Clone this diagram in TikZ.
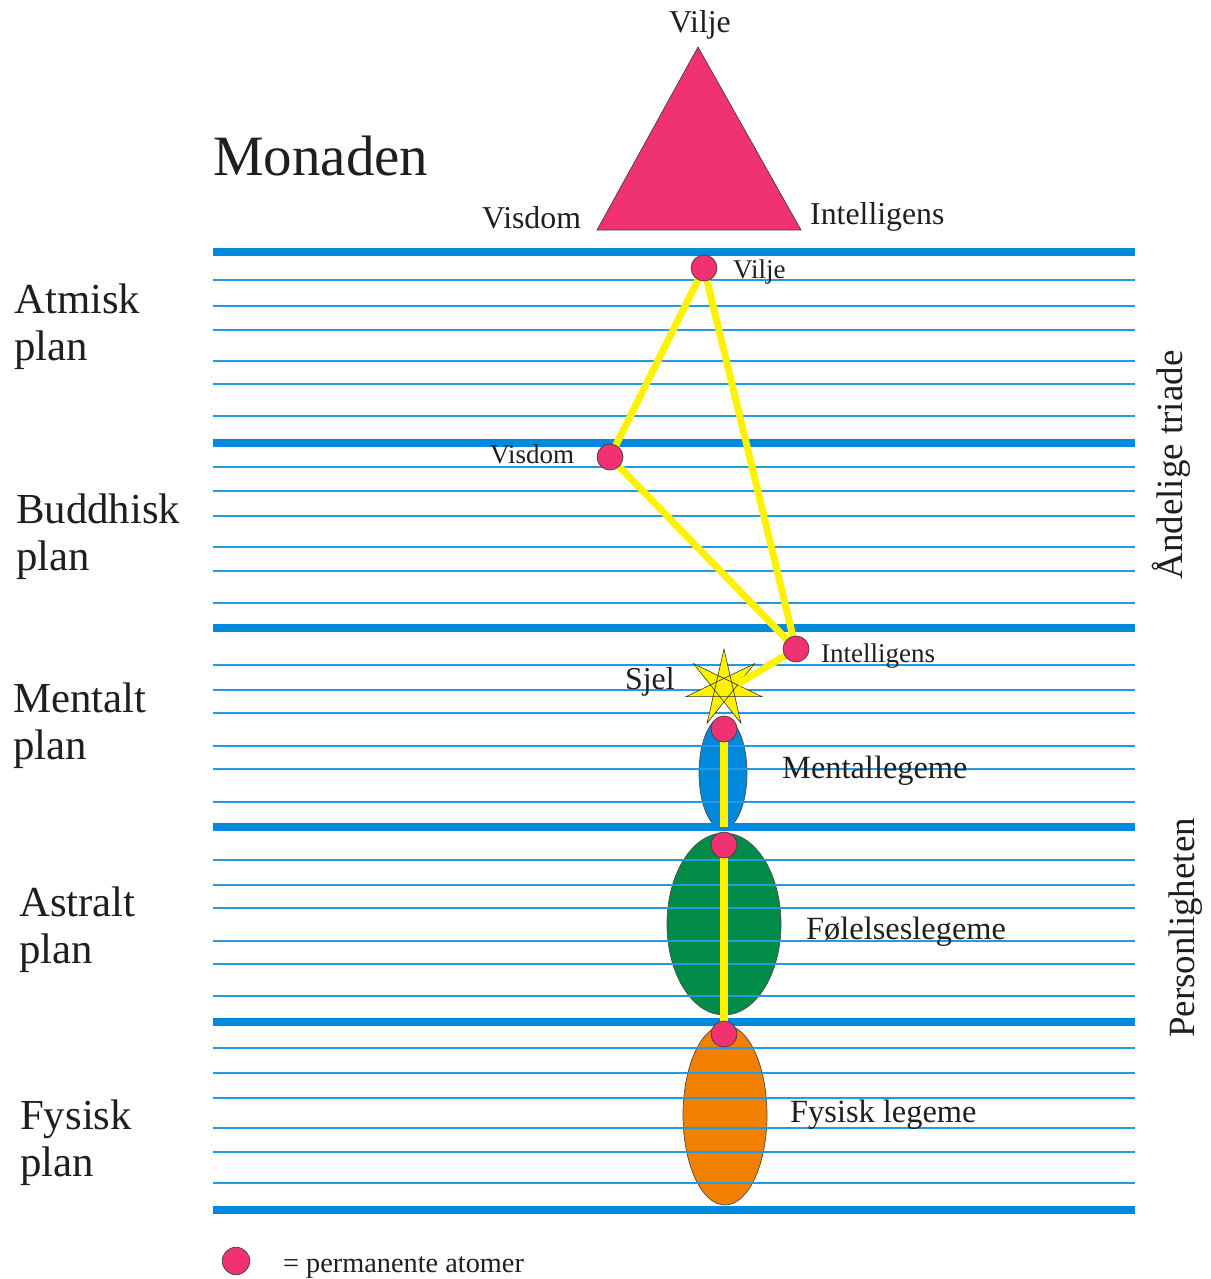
\documentclass[tikz,border=0pt]{standalone}
\usepackage{fontspec}
\setmainfont{Liberation Serif}
\definecolor{thickblue}{RGB}{0,138,222}
\definecolor{thinblue}{RGB}{35,155,228}
\definecolor{atompink}{RGB}{240,50,115}
\definecolor{glow}{RGB}{255,242,0}
\definecolor{mentblue}{RGB}{0,136,221}
\definecolor{astgreen}{RGB}{0,140,70}
\definecolor{fysorange}{RGB}{242,128,0}
\pgfdeclarelayer{back}
\pgfsetlayers{back,main}
\begin{document}
\begin{tikzpicture}[x=1pt,y=-1pt,
  every node/.style={inner sep=0pt, text=black!88},
  lbl/.style={anchor=base west},
  plane/.style={lbl, font=\fontsize{42.8}{47}\selectfont},
  body/.style={lbl, font=\fontsize{32.4}{36}\selectfont},
  small/.style={lbl, font=\fontsize{27}{30}\selectfont},
  mid/.style={font=\fontsize{31.8}{35}\selectfont},
  side/.style={rotate=90, font=\fontsize{37}{40}\selectfont},
  atom/.style={circle, minimum size=26pt, fill=atompink, draw=black!75, line width=0.7pt},
  thickline/.style={thickblue, line width=8pt},
  thinline/.style={thinblue, line width=1.2pt},
  link/.style={glow, line width=7pt},
  bodyshape/.style={draw=black!70, line width=0.7pt}]
\useasboundingbox (0,0) rectangle (1210,1279);

% atoms
\node[atom] (av) at (704,268) {};
\node[atom] (aw) at (610,457) {};
\node[atom] (ai) at (796,649) {};
\node[atom] (am) at (724,729) {};
\node[atom] (aa) at (724,845) {};
\node[atom] (af) at (724,1034) {};
\node[atom, minimum size=27.5pt] (legatom) at (236,1261) {};
\coordinate (sjelc) at (738,684);
\coordinate (mentend) at (724,827);

\begin{pgfonlayer}{back}
% bodies
\draw[bodyshape, fill=mentblue] (723,773) ellipse [x radius=24, y radius=56];
\draw[bodyshape, fill=astgreen] (724,924) ellipse [x radius=57, y radius=91];
\draw[bodyshape, fill=fysorange] (725,1115) ellipse [x radius=42, y radius=90];
% thin lines
\foreach \yy in {280,306,330,361,384,416,467,491,516,547,571,603,665,690,713,746,769,802,860,885,908,941,964,996,1048,1073,1098,1128,1152,1183}
  \draw[thinline] (213,\yy) -- (1135,\yy);
% thick lines
\foreach \yy in {252,443,628,827,1022,1210}
  \draw[thickline] (213,\yy) -- (1135,\yy);
% star (Sjel)
\foreach \k in {0,...,6}
  \coordinate (s\k) at ({724+39*cos(90+\k*360/7)},{688-39*sin(90+\k*360/7)});
\draw[fill=glow, draw=black!80, line width=0.6pt] (s0) -- (s3) -- (s6) -- (s2) -- (s5) -- (s1) -- (s4) -- cycle;
% yellow links
\draw[link] (av.center) -- (aw.center);
\draw[link] (av.center) -- (ai.center);
\draw[link] (aw.center) -- (ai.center);
\draw[link] (ai.center) -- (sjelc);
\draw[link, line width=8pt] (am.center) -- (mentend);
\draw[link, line width=8pt] (aa.center) -- (af.center);
\end{pgfonlayer}

% monad triangle
\draw[fill=atompink, draw=black!75, line width=0.7pt] (698,47) -- (597,230) -- (801,230) -- cycle;
\node[mid, anchor=base] (tvilje) at (700,33) {Vilje};
\node[mid, lbl] (tvisdom) at (482,228) {Visdom};
\node[mid, lbl] (tint) at (810,224) {Intelligens};
\node[lbl, font=\fontsize{57}{60}\selectfont] (monaden) at (213,175) {Monaden};

% atom labels
\node[small] (lvilje) at (733,278) {Vilje};
\node[small] (lvisdom) at (490,463) {Visdom};
\node[small] (lint) at (821,662) {Intelligens};
\node[lbl, mid] (lsjel) at (625,689) {Sjel};

% body labels
\node[body] (lment) at (782,778) {Mentallegeme};
\node[body] (lfol) at (806,939) {Følelseslegeme};
\node[body] (lfys) at (790,1122) {Fysisk legeme};

% plane labels
\node[plane] (p1a) at (14,313) {Atmisk};
\node[plane] (p1b) at (14,360) {plan};
\node[plane] (p2a) at (16,523) {Buddhisk};
\node[plane] (p2b) at (16,570) {plan};
\node[plane] (p3a) at (13,712) {Mentalt};
\node[plane] (p3b) at (13,759) {plan};
\node[plane] (p4a) at (19,916) {Astralt};
\node[plane] (p4b) at (19,963) {plan};
\node[plane] (p5a) at (20,1129) {Fysisk};
\node[plane] (p5b) at (20,1176) {plan};

% side labels
\node[side] (triade) at (1171,465) {Åndelige triade};
\node[side] (person) at (1186,928) {Personligheten};

% legend
\node[lbl, font=\fontsize{28.3}{31}\selectfont] (legtxt) at (283,1272) {= permanente atomer};
\end{tikzpicture}
\end{document}
